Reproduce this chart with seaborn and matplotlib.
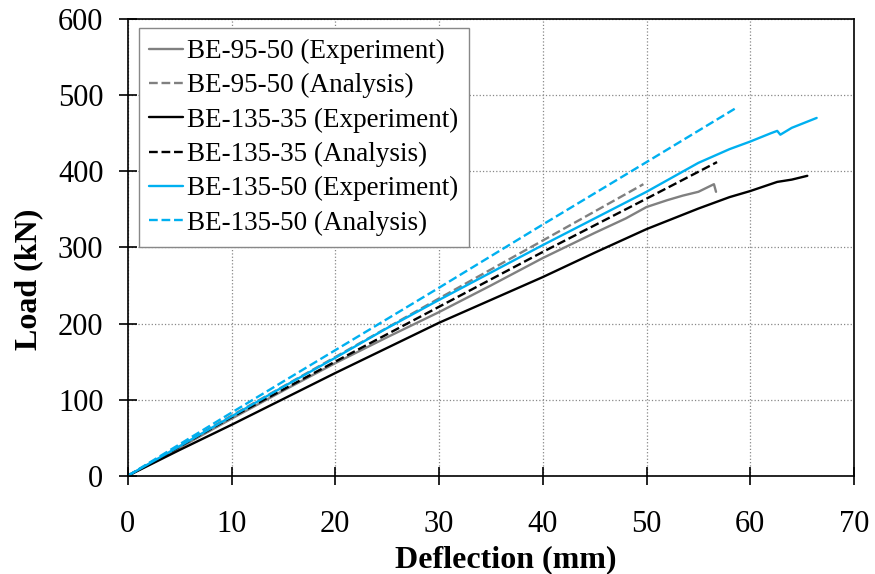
import matplotlib
matplotlib.use("Agg")
import matplotlib.pyplot as plt
import seaborn as sns
import pandas as pd

# load-deflection readings (mm, kN)
be95_exp_x = [0, 5, 10, 15, 20, 25, 30, 35, 40, 45, 48, 50, 52, 53.5, 55, 56.5, 56.7]
be95_exp_y = [0, 37, 75, 112, 148, 182, 215, 250, 286, 319, 338, 353, 362, 368, 373, 383, 373]
be95_ana_x = [0, 10, 20, 30, 40, 49.7]
be95_ana_y = [0, 79, 156, 233, 309, 383]

be135_35_exp_x = [0, 5, 10, 15, 20, 25, 30, 35, 40, 45, 50, 55, 58, 60, 62.6, 64, 65.5]
be135_35_exp_y = [0, 34, 67, 101, 135, 168, 201, 231, 261, 293, 324, 351, 366, 374, 386, 389, 394]
be135_35_ana_x = [0, 10, 20, 30, 40, 50, 56.8]
be135_35_ana_y = [0, 77, 150, 222, 294, 364, 412]

be135_50_exp_x = [0, 5, 10, 15, 20, 25, 30, 35, 40, 45, 50, 55, 58, 60, 62, 62.6, 62.9, 64, 66.4]
be135_50_exp_y = [0, 39, 78, 117, 155, 194, 231, 267, 303, 338, 373, 411, 429, 439, 450, 453, 448, 457, 470]
be135_50_ana_x = [0, 10, 20, 30, 40, 50, 58.5]
be135_50_ana_y = [0, 83, 165, 247, 330, 412, 482]

series = [
    ("BE-95-50 (Experiment)", be95_exp_x, be95_exp_y, "#808080", "-"),
    ("BE-95-50 (Analysis)", be95_ana_x, be95_ana_y, "#808080", "--"),
    ("BE-135-35 (Experiment)", be135_35_exp_x, be135_35_exp_y, "black", "-"),
    ("BE-135-35 (Analysis)", be135_35_ana_x, be135_35_ana_y, "black", "--"),
    ("BE-135-50 (Experiment)", be135_50_exp_x, be135_50_exp_y, "#00B0F0", "-"),
    ("BE-135-50 (Analysis)", be135_50_ana_x, be135_50_ana_y, "#00B0F0", "--"),
]

x_ticks = [0, 10, 20, 30, 40, 50, 60, 70]
y_ticks = [0, 100, 200, 300, 400, 500, 600]

sns.set_style("ticks")
plt.rcParams["font.family"] = ["Liberation Serif", "DejaVu Serif"]
plt.rcParams["text.color"] = "black"

fig = plt.figure(figsize=(8.75, 5.74), dpi=100)
ax = fig.add_axes([0.146, 0.171, 0.830, 0.796])

for name, xs, ys, col, ls in series:
    df = pd.DataFrame({"x": xs, "y": ys})
    sns.lineplot(data=df, x="x", y="y", ax=ax, color=col, linestyle=ls,
                 linewidth=1.7, label=name, sort=False, estimator=None)

ax.set_xlim(0, 70)
ax.set_ylim(0, 600)
ax.set_xticks(x_ticks)
ax.set_yticks(y_ticks)
ax.grid(True, color="#888888", linestyle=":", linewidth=0.9)
ax.tick_params(axis="both", labelsize=22, direction="inout", length=13, width=1.2,
               colors="black", labelcolor="black")
ax.tick_params(axis="x", pad=18)
ax.tick_params(axis="y", pad=11)
for s in ax.spines.values():
    s.set_color("black")
    s.set_linewidth(1.2)

ax.set_xlabel("Deflection (mm)", fontsize=23, fontweight="bold", color="black")
ax.set_ylabel("Load (kN)", fontsize=23, fontweight="bold", color="black")
ax.xaxis.set_label_coords(0.52, -0.152)
ax.yaxis.set_label_coords(-0.117, 0.43)

leg = ax.legend(loc="upper left", fontsize=19.5, handlelength=1.25, handletextpad=0.15,
                labelspacing=0.34, borderpad=0.4, borderaxespad=0, fancybox=False,
                framealpha=1, bbox_to_anchor=(0.015, 0.98))
leg.get_frame().set_edgecolor("#888888")
leg.get_frame().set_linewidth(1.0)

fig.savefig("out.png", dpi=100)
